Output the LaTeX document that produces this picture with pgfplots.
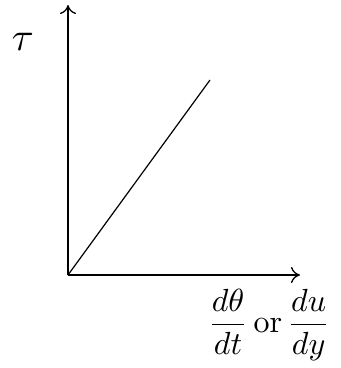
\documentclass[border=0pt]{standalone}
\usepackage{pgfplots}
\pgfplotsset{compat=1.18}
\usetikzlibrary{arrows.meta}
\begin{document}
\begin{tikzpicture}
\path[use as bounding box] (-68pt,-93pt) rectangle (273pt,275pt);
\begin{axis}[
  scale only axis,
  width=232pt, height=270pt,
  xmin=0, xmax=232, ymin=0, ymax=270,
  axis lines=left,
  axis line style={line width=1.3pt, -{To[length=9pt,width=16pt]}},
  xtick=\empty, ytick=\empty,
  clip=false,
]
% shear stress grows linearly with the rate of strain
\addplot[black, line width=1.2pt] coordinates {(0,0) (142,195)};
\node[scale=4] at (axis cs:-45,233) {$\tau$};
\node[scale=3.2] at (axis cs:201,-50) {$\displaystyle\frac{d\theta}{dt}$\,or\,$\displaystyle\frac{du}{dy}$};
\end{axis}
\end{tikzpicture}
\end{document}
